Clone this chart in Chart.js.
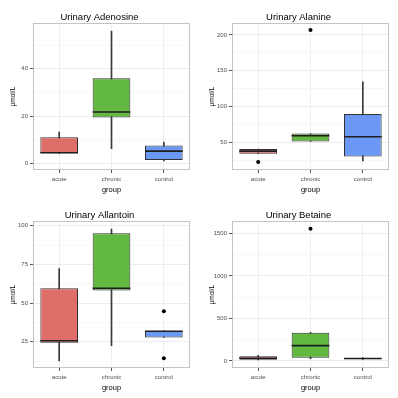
<!DOCTYPE html>
<html>
<head>
<meta charset="utf-8">
<script src="https://cdn.jsdelivr.net/npm/chart.js@4/dist/chart.umd.min.js"></script>
<style>
  html, body { margin: 0; padding: 0; background: #fff; }
  #wrap { position: relative; width: 398px; height: 398px; }
  canvas { position: absolute; }
</style>
</head>
<body>
<div id="wrap">
  <canvas id="c1" width="199" height="199" style="left:0;top:0"></canvas>
  <canvas id="c2" width="199" height="199" style="left:199px;top:0"></canvas>
  <canvas id="c3" width="199" height="199" style="left:0;top:198px"></canvas>
  <canvas id="c4" width="199" height="199" style="left:199px;top:198px"></canvas>
</div>
<script>
'use strict';

const groups = ['acute', 'chronic', 'control'];
const fills = ['#e06e68', '#62b840', '#6a98f4'];

// Urinary Adenosine
const adenLow = [4.2, 6.2, 1.0];
const adenQ1 = [4.3, 19.4, 1.4];
const adenMed = [4.5, 21.7, 5.2];
const adenQ3 = [11.0, 36.0, 7.6];
const adenHigh = [13.2, 56.0, 9.0];
const adenOut = [];
const adenTicks = [0, 20, 40];
const adenMinor = [10, 30, 50];

// Urinary Alanine
const alanLow = [34.3, 51.4, 24.5];
const alanQ1 = [34.3, 51.4, 30.5];
const alanMed = [38.0, 59.5, 58.0];
const alanQ3 = [40.8, 62.5, 89.8];
const alanHigh = [40.8, 62.5, 134.5];
const alanOut = [{ x: 'acute', y: 22.8 }, { x: 'chronic', y: 206.8 }];
const alanTicks = [50, 100, 150, 200];
const alanMinor = [25, 75, 125, 175];

// Urinary Allantoin
const allaLow = [12.6, 22.5, 27.7];
const allaQ1 = [24.4, 58.1, 27.7];
const allaMed = [25.6, 59.6, 31.8];
const allaQ3 = [59.6, 95.2, 32.0];
const allaHigh = [72.3, 97.8, 32.0];
const allaOut = [{ x: 'control', y: 44.7 }, { x: 'control', y: 14.3 }];
const allaTicks = [25, 50, 75, 100];
const allaMinor = [12.5, 37.5, 62.5, 87.5];

// Urinary Betaine
const betaLow = [10, 25, 18];
const betaQ1 = [12, 38, 20];
const betaMed = [30, 180, 28];
const betaQ3 = [54, 332, 35];
const betaHigh = [65, 335, 38];
const betaOut = [{ x: 'chronic', y: 1555 }];
const betaTicks = [0, 500, 1000, 1500];
const betaMinor = [250, 750, 1250];

const FONT = '"Liberation Sans", Arial, Helvetica, sans-serif';

// draws the panel border and the median lines
const boxExtras = {
    id: 'boxExtras',
    beforeDatasetsDraw(chart) {
        const a = chart.chartArea;
        const ctx = chart.ctx;
        ctx.save();
        ctx.strokeStyle = '#c4c4c4';
        ctx.lineWidth = 1;
        ctx.strokeRect(Math.round(a.left) + 0.5, Math.round(a.top) + 0.5,
            Math.round(a.right - a.left) - 1, Math.round(a.bottom - a.top) - 1);
        ctx.restore();
    },
    afterDatasetsDraw(chart, args, opts) {
        const meta = chart.getDatasetMeta(1);
        const y = chart.scales.y;
        const ctx = chart.ctx;
        ctx.save();
        ctx.strokeStyle = '#1e1e1e';
        ctx.lineWidth = 1.6;
        meta.data.forEach((bar, i) => {
            const py = y.getPixelForValue(opts.medians[i]);
            ctx.beginPath();
            ctx.moveTo(bar.x - bar.width / 2, py);
            ctx.lineTo(bar.x + bar.width / 2, py);
            ctx.stroke();
        });
        ctx.restore();
    }
};

function panel(id, title, low, q1, med, q3, high, outliers, yMin, yMax, major, minor) {
    const all = major.concat(minor).sort((a, b) => a - b);
    return new Chart(document.getElementById(id), {
        type: 'bar',
        data: {
            labels: groups,
            datasets: [
                {
                    data: groups.map((g, i) => [low[i], high[i]]),
                    backgroundColor: '#3a3a3a',
                    barThickness: 1,
                    grouped: false,
                    order: 3,
                }, {
                    data: groups.map((g, i) => [q1[i], q3[i]]),
                    backgroundColor: fills,
                    borderColor: '#333333',
                    borderWidth: 1,
                    borderSkipped: false,
                    barPercentage: 0.72,
                    categoryPercentage: 1,
                    grouped: false,
                    order: 2,
                }, {
                    type: 'line',
                    data: outliers,
                    showLine: false,
                    pointRadius: 2,
                    pointBackgroundColor: '#000',
                    pointBorderWidth: 0,
                    order: 1,
                }
            ]
        },
        options: {
            responsive: false,
            animation: false,
            layout: { padding: { top: 0, right: 9, bottom: 5, left: 9 } },
            plugins: {
                legend: { display: false },
                tooltip: { enabled: false },
                title: {
                    display: true,
                    text: title,
                    color: '#000',
                    font: { family: FONT, size: 9.5, weight: 'normal' },
                    padding: { top: 12, bottom: 0 },
                },
                boxExtras: { medians: med },
            },
            scales: {
                x: {
                    offset: true,
                    border: { display: false },
                    grid: { offset: false, color: '#efefef', tickColor: '#555', tickLength: 3 },
                    ticks: { color: '#4d4d4d', font: { family: FONT, size: 6 }, padding: 3 },
                    title: { display: true, text: 'group', color: '#000', font: { family: FONT, size: 7.5 }, padding: 0 },
                    afterFit: (s) => { s.height = 24; },
                },
                y: {
                    min: yMin,
                    max: yMax,
                    border: { display: false },
                    afterBuildTicks: (s) => { s.ticks = all.map(v => ({ value: v })); },
                    grid: {
                        color: (c) => major.includes(c.tick.value) ? '#ececec' : '#f7f7f7',
                        tickColor: (c) => major.includes(c.tick.value) ? '#555' : 'rgba(0,0,0,0)',
                        tickLength: 3,
                    },
                    ticks: {
                        autoSkip: false,
                        color: '#4d4d4d',
                        font: { family: FONT, size: 6 },
                        padding: 2,
                        callback: (v) => major.includes(v) ? String(v) : '',
                    },
                    title: { display: true, text: 'μmol/L', color: '#000', font: { family: FONT, size: 6.5 }, padding: 0 },
                    afterFit: (s) => { s.width = 24; },
                },
            },
        },
        plugins: [boxExtras],
    });
}

panel('c1', 'Urinary Adenosine', adenLow, adenQ1, adenMed, adenQ3, adenHigh, adenOut, -2.8, 59.2, adenTicks, adenMinor);
panel('c2', 'Urinary Alanine', alanLow, alanQ1, alanMed, alanQ3, alanHigh, alanOut, 11.7, 216, alanTicks, alanMinor);
panel('c3', 'Urinary Allantoin', allaLow, allaQ1, allaMed, allaQ3, allaHigh, allaOut, 8, 102.8, allaTicks, allaMinor);
panel('c4', 'Urinary Betaine', betaLow, betaQ1, betaMed, betaQ3, betaHigh, betaOut, -84, 1642, betaTicks, betaMinor);
</script>
</body>
</html>
